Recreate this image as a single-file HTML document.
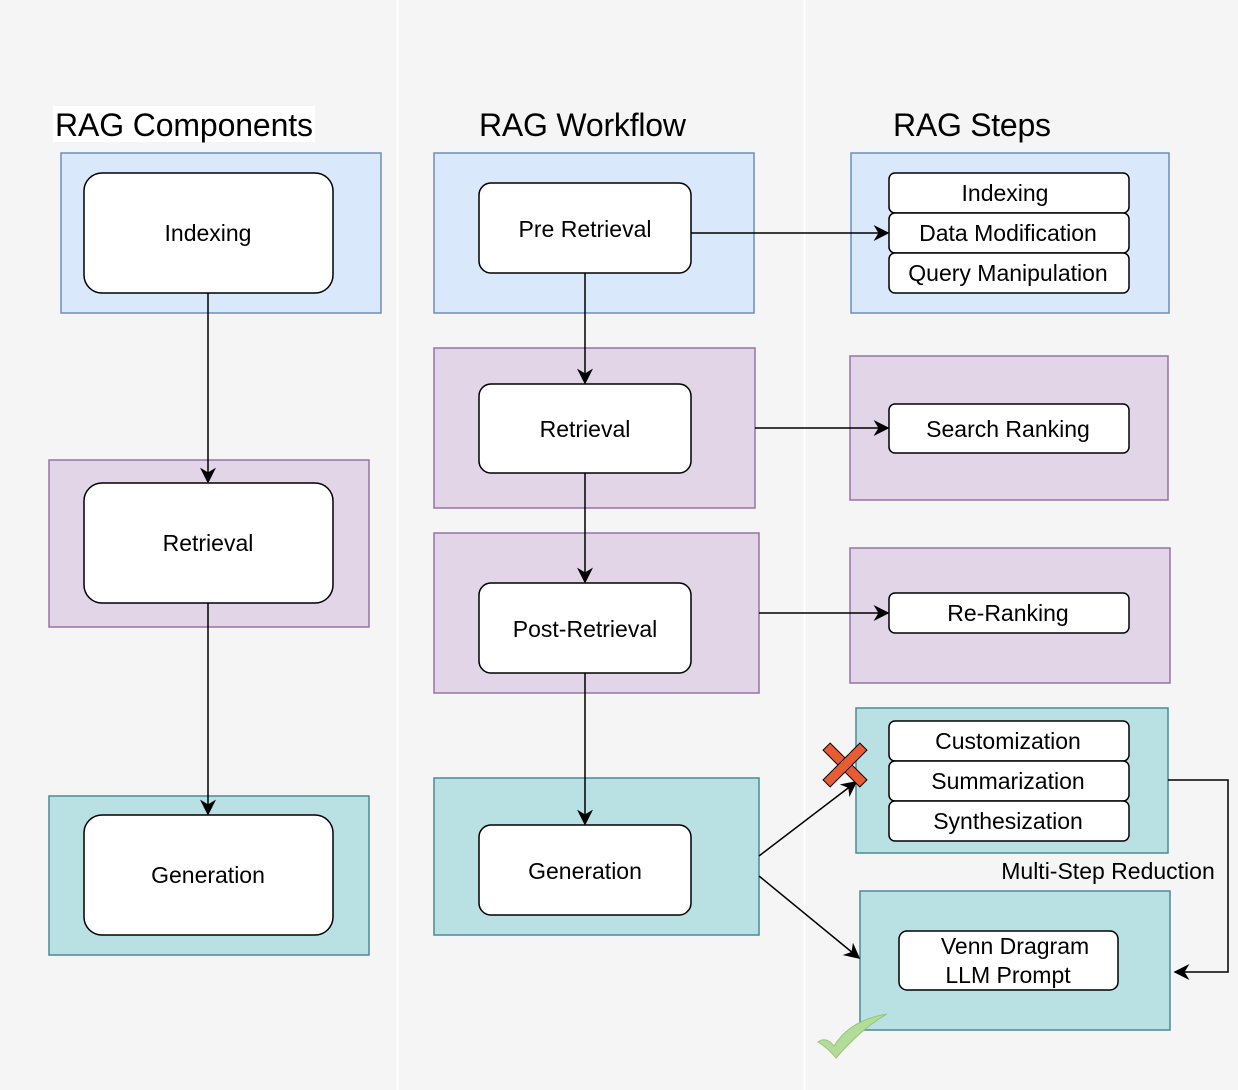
<!DOCTYPE html>
<html><head><meta charset="utf-8"><style>
html,body{margin:0;padding:0;background:#f5f5f5;}
svg{display:block;font-family:"Liberation Sans",Arial,sans-serif;}
</style></head><body>
<svg width="1238" height="1090" viewBox="0 0 1238 1090" xmlns="http://www.w3.org/2000/svg">
<defs>
<marker id="a" viewBox="0 0 10 10" refX="9" refY="5" markerWidth="16" markerHeight="16" markerUnits="userSpaceOnUse" orient="auto">
<path d="M0,0 L10,5 L0,10 L3,5 Z" fill="#000"/></marker>
</defs>
<rect width="1238" height="1090" fill="#f5f5f5"/>
<line x1="397.5" y1="0" x2="397.5" y2="1090" stroke="#fff" stroke-width="2"/>
<line x1="804.5" y1="0" x2="804.5" y2="1090" stroke="#fff" stroke-width="2"/>
<g font-size="32" fill="#000">
<rect x="53" y="106" width="262" height="36" fill="#fff"/>
<text x="55" y="136" textLength="258">RAG Components</text>
<text x="479" y="136" textLength="207">RAG Workflow</text>
<text x="893" y="136" textLength="158">RAG Steps</text>
</g>
<g stroke-width="1.5">
<rect x="61" y="153" width="320" height="160" fill="#dae8fc" stroke="#6c8ebf"/>
<rect x="49" y="460" width="320" height="167" fill="#e1d5e7" stroke="#9673a6"/>
<rect x="49" y="796" width="320" height="159" fill="#b9e0e3" stroke="#4a8a94"/>
<rect x="434" y="153" width="320" height="160" fill="#dae8fc" stroke="#6c8ebf"/>
<rect x="434" y="348" width="321" height="160" fill="#e1d5e7" stroke="#9673a6"/>
<rect x="434" y="533" width="325" height="160" fill="#e1d5e7" stroke="#9673a6"/>
<rect x="434" y="778" width="325" height="157" fill="#b9e0e3" stroke="#4a8a94"/>
<rect x="851" y="153" width="318" height="160" fill="#dae8fc" stroke="#6c8ebf"/>
<rect x="850" y="356" width="318" height="144" fill="#e1d5e7" stroke="#9673a6"/>
<rect x="850" y="548" width="320" height="135" fill="#e1d5e7" stroke="#9673a6"/>
<rect x="856" y="708" width="312" height="145" fill="#b9e0e3" stroke="#4a8a94"/>
<rect x="860" y="891" width="310" height="139" fill="#b9e0e3" stroke="#4a8a94"/>
</g>
<g fill="#fff" stroke="#000" stroke-width="1.5">
<rect x="84" y="173" width="249" height="120" rx="18"/>
<rect x="84" y="483" width="249" height="120" rx="18"/>
<rect x="84" y="815" width="249" height="120" rx="18"/>
<rect x="479" y="183" width="212" height="90" rx="12"/>
<rect x="479" y="384" width="212" height="89" rx="12"/>
<rect x="479" y="583" width="212" height="90" rx="12"/>
<rect x="479" y="825" width="212" height="90" rx="12"/>
<rect x="889" y="173" width="240" height="40" rx="6"/>
<rect x="889" y="213" width="240" height="40" rx="6"/>
<rect x="889" y="253" width="240" height="40" rx="6"/>
<rect x="889" y="404" width="240" height="49" rx="6"/>
<rect x="889" y="593" width="240" height="40" rx="6"/>
<rect x="889" y="721" width="240" height="40" rx="6"/>
<rect x="889" y="761" width="240" height="40" rx="6"/>
<rect x="889" y="801" width="240" height="40" rx="6"/>
<rect x="899" y="931" width="219" height="59" rx="8"/>
</g>
<g font-size="23" text-anchor="middle" fill="#000">
<text x="208" y="241">Indexing</text>
<text x="208" y="551">Retrieval</text>
<text x="208" y="883">Generation</text>
<text x="585" y="237">Pre Retrieval</text>
<text x="585" y="437">Retrieval</text>
<text x="585" y="637">Post-Retrieval</text>
<text x="585" y="879">Generation</text>
<text x="1005" y="201">Indexing</text>
<text x="1008" y="241">Data Modification</text>
<text x="1008" y="281">Query Manipulation</text>
<text x="1008" y="437">Search Ranking</text>
<text x="1008" y="621">Re-Ranking</text>
<text x="1008" y="749">Customization</text>
<text x="1008" y="789">Summarization</text>
<text x="1008" y="829">Synthesization</text>
<text x="1015" y="954">Venn Dragram</text>
<text x="1008" y="983">LLM Prompt</text>
<text x="1108" y="879">Multi-Step Reduction</text>
</g>
<g stroke="#000" stroke-width="1.5" fill="none" marker-end="url(#a)">
<line x1="208" y1="293" x2="208" y2="482"/>
<line x1="208" y1="603" x2="208" y2="814"/>
<line x1="585" y1="273" x2="585" y2="383"/>
<line x1="585" y1="473" x2="585" y2="582"/>
<line x1="585" y1="673" x2="585" y2="824"/>
<line x1="691" y1="233" x2="888" y2="233"/>
<line x1="755" y1="428" x2="888" y2="428"/>
<line x1="759" y1="613" x2="888" y2="613"/>
<line x1="759" y1="856" x2="856" y2="782"/>
<line x1="759" y1="876" x2="859" y2="958"/>
<polyline points="1168,780 1228,780 1228,972 1175,972"/>
</g>
<g transform="translate(845,765) rotate(45)">
<rect x="-26" y="-5" width="52" height="10" fill="#e85c33" stroke="#000" stroke-width="1"/>
<rect x="-5" y="-26" width="10" height="52" fill="#e85c33" stroke="#000" stroke-width="1"/>
<rect x="-4.5" y="-4.5" width="9" height="9" fill="#e85c33"/>
</g>
<path d="M818,1042 Q826,1036 834,1046 Q850,1020 887,1014 Q862,1028 836,1058 Q828,1048 818,1042 Z" fill="#b3dc98" stroke="#97c47c" stroke-width="1"/>
</svg>
</body></html>
